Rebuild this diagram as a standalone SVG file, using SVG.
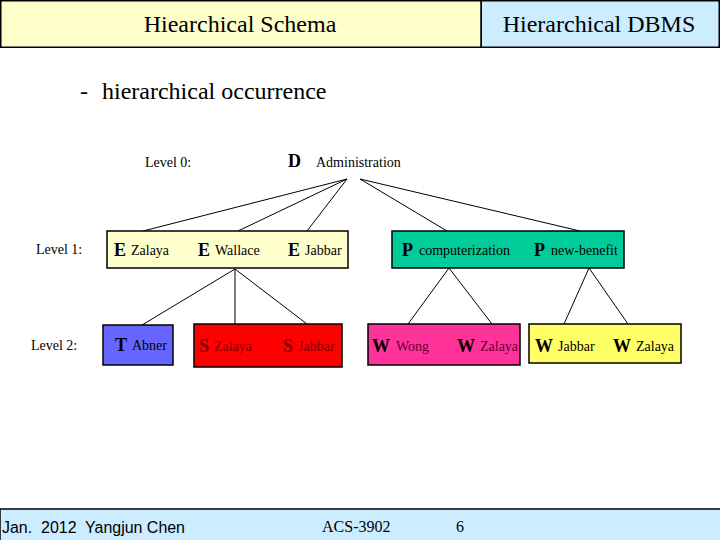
<svg xmlns="http://www.w3.org/2000/svg" width="720" height="540" viewBox="0 0 720 540">
<style>
.t{font-family:"Liberation Serif","Times New Roman",serif;fill:#000}
.b{font-weight:bold;font-size:18px}
.s{font-size:14px}
.box{stroke:#000;stroke-width:1.5}
.ln{stroke:#000;stroke-width:1;fill:none}
.dr{fill:#800000}
.dp{fill:#660033}
</style>
<rect width="720" height="540" fill="#fff"/>
<g id="header">
<rect x="0.75" y="0.75" width="480.5" height="46.5" fill="#FFFFCC" class="box"/>
<rect x="481.25" y="0.75" width="238" height="46.5" fill="#CCECFF" class="box"/>
<text class="t" x="240" y="32" font-size="24" text-anchor="middle">Hiearchical Schema</text>
<text class="t" x="599" y="32" font-size="24" text-anchor="middle">Hierarchical DBMS</text>
</g>
<text class="t" x="80" y="99" font-size="24">-</text>
<text class="t" x="102" y="99" font-size="24">hierarchical occurrence</text>
<g id="labels">
<text class="t s" x="145" y="167">Level 0:</text>
<text class="t s" x="36" y="254">Level 1:</text>
<text class="t s" x="31" y="350">Level 2:</text>
</g>
<g id="connectors" class="ln">
<line x1="347" y1="179" x2="143" y2="231"/>
<line x1="347" y1="179" x2="238" y2="231"/>
<line x1="347" y1="179" x2="307" y2="231"/>
<line x1="360" y1="179" x2="447" y2="231"/>
<line x1="360" y1="179" x2="580" y2="231"/>
<line x1="235" y1="269" x2="142" y2="325"/>
<line x1="235" y1="269" x2="235" y2="324"/>
<line x1="235" y1="269" x2="307" y2="324"/>
<line x1="449" y1="268" x2="408" y2="324"/>
<line x1="449" y1="268" x2="492" y2="324"/>
<line x1="589" y1="268" x2="564" y2="324"/>
<line x1="589" y1="268" x2="628" y2="324"/>
</g>
<g id="root">
<text class="t b" x="288" y="167">D</text>
<text class="t s" x="316" y="167">Administration</text>
</g>
<g id="level1-E">
<rect x="107" y="231" width="241" height="37" fill="#FFFFCC" class="box"/>
<text class="t b" x="114" y="256">E</text><text class="t s" x="131" y="255">Zalaya</text>
<text class="t b" x="198" y="256">E</text><text class="t s" x="215" y="255">Wallace</text>
<text class="t b" x="288" y="256">E</text><text class="t s" x="305" y="255">Jabbar</text>
</g>
<g id="level1-P">
<rect x="392" y="231" width="232" height="37" fill="#00CC99" class="box"/>
<text class="t b" x="402" y="256">P</text><text class="t s" x="419" y="255">computerization</text>
<text class="t b" x="534" y="256">P</text><text class="t s" x="551" y="255">new-benefit</text>
</g>
<g id="level2-T">
<rect x="103" y="325" width="70" height="40" fill="#6666FF" class="box"/>
<text class="t b" x="115" y="351">T</text><text class="t s" x="132" y="350">Abner</text>
</g>
<g id="level2-S">
<rect x="194" y="324" width="148" height="43" fill="#FF0000" class="box"/>
<text class="t b dr" x="199" y="352">S</text><text class="t s dr" x="214" y="351">Zalaya</text>
<text class="t b dr" x="283" y="352">S</text><text class="t s dr" x="298" y="351">Jabbar</text>
</g>
<g id="level2-W1">
<rect x="368" y="324" width="152" height="41" fill="#FF3399" class="box"/>
<text class="t b" x="372" y="352">W</text><text class="t s dp" x="396" y="351">Wong</text>
<text class="t b" x="457" y="352">W</text><text class="t s dp" x="480" y="351">Zalaya</text>
</g>
<g id="level2-W2">
<rect x="529" y="324" width="152" height="39" fill="#FFFF66" class="box"/>
<text class="t b" x="535" y="352">W</text><text class="t s" x="558" y="351">Jabbar</text>
<text class="t b" x="613" y="352">W</text><text class="t s" x="636" y="351">Zalaya</text>
</g>
<g id="footer">
<rect x="0" y="509" width="721" height="33" fill="#CCECFF" stroke="#000" stroke-width="1.5"/>
<text x="2" y="533" font-family="Liberation Sans,Arial,sans-serif" font-size="16" textLength="183" lengthAdjust="spacingAndGlyphs" style="white-space:pre">Jan.  2012  Yangjun Chen</text>
<text class="t" x="322" y="532" font-size="16">ACS-3902</text>
<text class="t" x="456" y="532" font-size="16">6</text>
</g>
</svg>
